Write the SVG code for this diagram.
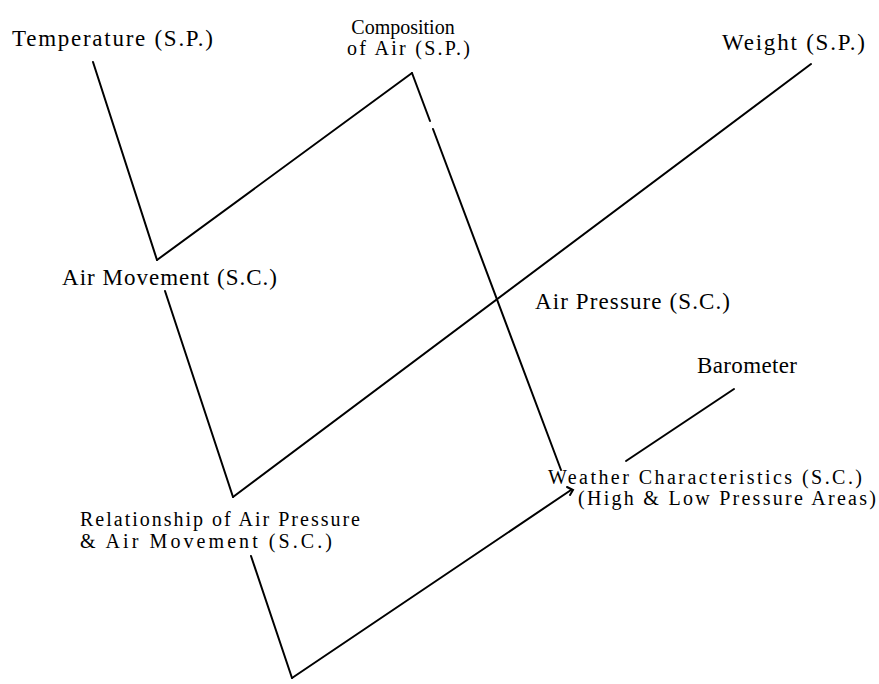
<svg xmlns="http://www.w3.org/2000/svg" width="879" height="684" viewBox="0 0 879 684">
<style>
text{font-family:"Liberation Serif","Times New Roman",serif;font-size:23px;fill:#000}
text.s{font-size:20px}
.c line,.c path{stroke:#000;stroke-width:2;fill:none;stroke-linecap:round}
</style>
<rect width="879" height="684" fill="#fff"/>
<g id="connectors" class="c">
<line x1="93" y1="62" x2="157" y2="260"/>
<line x1="157" y1="260" x2="412" y2="73"/>
<line x1="412" y1="73" x2="430" y2="121"/>
<line x1="433" y1="129" x2="561" y2="470"/>
<line x1="165" y1="291" x2="233" y2="497"/>
<line x1="233" y1="497" x2="811" y2="64"/>
<line x1="251" y1="556" x2="292" y2="678"/>
<line x1="292" y1="678" x2="571" y2="490"/>
<line x1="734" y1="389" x2="626" y2="461"/>
<path d="M567,487 L573,490 L570,495" stroke-width="2.5"/>
</g>
<g id="temperature"><text x="12" y="46" textLength="201" lengthAdjust="spacing">Temperature (S.P.)</text></g>
<g id="composition"><text class="s" x="403" y="34" text-anchor="middle">Composition</text><text class="s" x="347" y="55" textLength="123" lengthAdjust="spacing">of Air (S.P.)</text></g>
<g id="weight"><text x="722" y="50" textLength="143" lengthAdjust="spacing">Weight (S.P.)</text></g>
<g id="air-movement"><text x="62" y="285" textLength="215" lengthAdjust="spacing">Air Movement (S.C.)</text></g>
<g id="air-pressure"><text x="535" y="309" textLength="195" lengthAdjust="spacing">Air Pressure (S.C.)</text></g>
<g id="barometer"><text x="697" y="373" textLength="100" lengthAdjust="spacing">Barometer</text></g>
<g id="weather"><text class="s" x="548" y="484" textLength="314" lengthAdjust="spacing">Weather Characteristics (S.C.)</text><text class="s" x="578" y="505" textLength="298" lengthAdjust="spacing">(High &amp; Low Pressure Areas)</text></g>
<g id="relationship"><text class="s" x="80" y="526" textLength="280" lengthAdjust="spacing">Relationship of Air Pressure</text><text class="s" x="80" y="548" textLength="252" lengthAdjust="spacing">&amp; Air Movement (S.C.)</text></g>
</svg>
